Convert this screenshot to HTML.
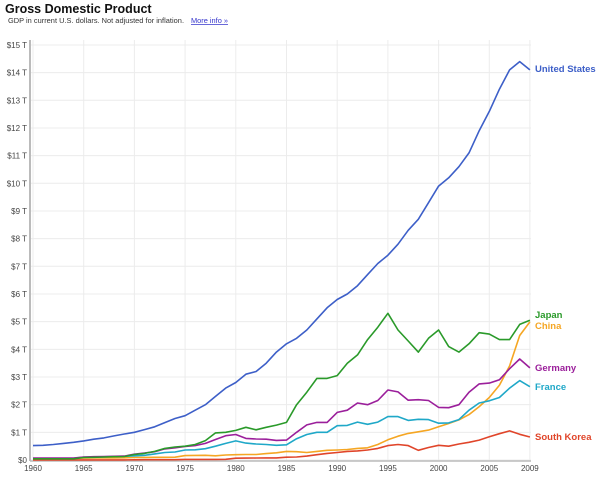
<!DOCTYPE html>
<html><head><meta charset="utf-8"><style>
body{margin:0;background:#fff;width:600px;height:479px;overflow:hidden;font-family:"Liberation Sans",Arial,sans-serif}
</style></head><body>
<svg id="s" width="600" height="479" xmlns="http://www.w3.org/2000/svg" font-family="Liberation Sans, Arial, sans-serif">
<text x="5" y="13" font-size="12.5" font-weight="bold" fill="#111">Gross Domestic Product</text>
<text x="8" y="23" font-size="7.4" fill="#333" textLength="176">GDP in current U.S. dollars. Not adjusted for inflation.</text>
<text x="191" y="23" font-size="7.4" fill="#3333cc" text-decoration="underline">More info »</text>
<g id="g"></g>
</svg>
<script>
var s=document.getElementById('g'),h='';
function X(y){return 33+(y-1960)*10.14}
function Y(v){return 460-v*27.67}
for(var i=0;i<=15;i++){var y=Y(i);h+='<line x1="31" x2="531" y1="'+y+'" y2="'+y+'" stroke="#ececec"/>';
h+='<text x="27" y="'+(y+3)+'" font-size="8" text-anchor="end" fill="#444">$'+i+(i?' T':'')+'</text>';}
for(var yr=1960;yr<=2005;yr+=5){var x=X(yr);h+='<line x1="'+x+'" x2="'+x+'" y1="40" y2="460" stroke="#ececec"/>';h+='<text x="'+x+'" y="471" font-size="8" text-anchor="middle" fill="#444">'+yr+'</text>';}
h+='<line x1="'+X(2009)+'" x2="'+X(2009)+'" y1="40" y2="460" stroke="#ececec"/><text x="'+X(2009)+'" y="471" font-size="8" text-anchor="middle" fill="#444">2009</text>';
h+='<line x1="30" x2="30" y1="40" y2="461" stroke="#bbb" stroke-width="2"/><line x1="30" x2="531" y1="461" y2="461" stroke="#bbb" stroke-width="1.5"/>';
function fill(m){var a=[],ks=Object.keys(m).map(Number).sort(function(a,b){return a-b});for(var y=1960;y<=2009;y++){var k0,k1;for(var j=0;j<ks.length;j++){if(ks[j]<=y)k0=ks[j];if(ks[j]>=y&&k1===undefined)k1=ks[j];}var v=k0==k1?m[k0]:m[k0]+(m[k1]-m[k0])*(y-k0)/(k1-k0);a.push(X(y).toFixed(1)+','+Y(v).toFixed(1));}return a.join(' ');}
var D=[
['#e0452a',{1960:.004,1970:.009,1975:.02,1980:.065,1985:.1,1986:.11,1987:.14,1988:.19,1989:.24,1990:.27,1991:.31,1992:.33,1993:.36,1994:.42,1995:.52,1996:.56,1997:.52,1998:.35,1999:.45,2000:.53,2001:.5,2002:.58,2003:.64,2004:.72,2005:.84,2006:.95,2007:1.05,2008:.93,2009:.83}],
['#f5a623',{1960:.06,1965:.07,1970:.09,1975:.16,1977:.17,1978:.15,1979:.18,1980:.19,1981:.2,1982:.2,1983:.23,1984:.26,1985:.31,1986:.3,1987:.27,1988:.31,1989:.35,1990:.36,1991:.38,1992:.42,1993:.44,1994:.56,1995:.73,1996:.86,1997:.96,1998:1.02,1999:1.08,2000:1.2,2001:1.32,2002:1.45,2003:1.64,2004:1.93,2005:2.26,2006:2.7,2007:3.4,2008:4.5,2009:4.99}],
['#1fa8c8',{1960:.06,1965:.1,1970:.15,1971:.17,1972:.22,1973:.27,1974:.29,1975:.36,1976:.37,1977:.41,1978:.5,1979:.6,1980:.69,1981:.61,1982:.58,1983:.56,1984:.53,1985:.55,1986:.77,1987:.92,1988:1.0,1989:1.0,1990:1.24,1991:1.25,1992:1.37,1993:1.29,1994:1.37,1995:1.57,1996:1.57,1997:1.43,1998:1.47,1999:1.46,2000:1.33,2001:1.34,2002:1.46,2003:1.8,2004:2.06,2005:2.14,2006:2.26,2007:2.6,2008:2.87,2009:2.65}],
['#9b1f9b',{1960:.07,1965:.11,1970:.21,1971:.25,1972:.3,1973:.4,1974:.44,1975:.49,1976:.52,1977:.6,1978:.74,1979:.88,1980:.92,1981:.78,1982:.76,1983:.75,1984:.71,1985:.72,1986:1.0,1987:1.27,1988:1.36,1989:1.36,1990:1.72,1991:1.8,1992:2.06,1993:2.0,1994:2.15,1995:2.53,1996:2.46,1997:2.16,1998:2.18,1999:2.15,2000:1.9,2001:1.89,2002:2.0,2003:2.45,2004:2.75,2005:2.78,2006:2.9,2007:3.3,2008:3.65,2009:3.33}],
['#2a9a2a',{1960:.044,1965:.09,1970:.2,1971:.24,1972:.31,1973:.42,1974:.47,1975:.5,1976:.56,1977:.7,1978:.98,1979:1.0,1980:1.07,1981:1.18,1982:1.09,1983:1.18,1984:1.26,1985:1.36,1986:2.0,1987:2.45,1988:2.95,1989:2.95,1990:3.05,1991:3.5,1992:3.8,1993:4.35,1994:4.8,1995:5.3,1996:4.7,1997:4.3,1998:3.9,1999:4.4,2000:4.7,2001:4.1,2002:3.9,2003:4.2,2004:4.6,2005:4.55,2006:4.35,2007:4.35,2008:4.9,2009:5.05}],
['#3d5fc8',{1960:.52,1961:.53,1962:.56,1963:.6,1964:.64,1965:.69,1966:.75,1967:.8,1968:.87,1969:.94,1970:1.0,1971:1.1,1972:1.2,1973:1.35,1974:1.5,1975:1.6,1976:1.8,1977:2.0,1978:2.3,1979:2.6,1980:2.8,1981:3.1,1982:3.2,1983:3.5,1984:3.9,1985:4.2,1986:4.4,1987:4.7,1988:5.1,1989:5.5,1990:5.8,1991:6.0,1992:6.3,1993:6.7,1994:7.1,1995:7.4,1996:7.8,1997:8.3,1998:8.7,1999:9.3,2000:9.9,2001:10.2,2002:10.6,2003:11.1,2004:11.9,2005:12.6,2006:13.4,2007:14.1,2008:14.4,2009:14.1}]];
D.forEach(function(d){h+='<polyline fill="none" stroke="'+d[0]+'" stroke-width="1.6" stroke-linejoin="round" points="'+fill(d[1])+'"/>';});
var L=[['United States','#3d5fc8',72],['Japan','#2a9a2a',318],['China','#f5a623',329],['Germany','#9b1f9b',371],['France','#1fa8c8',390],['South Korea','#e0452a',440]];
L.forEach(function(l){h+='<text x="535" y="'+l[2]+'" font-size="9.5" font-weight="bold" fill="'+l[1]+'">'+l[0]+'</text>';});
s.innerHTML=h;
</script>
</body></html>
